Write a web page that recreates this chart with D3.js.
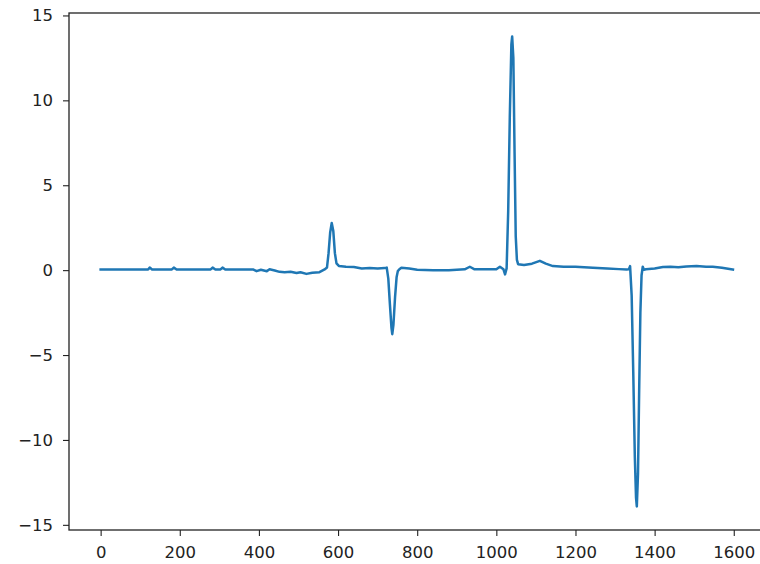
<!DOCTYPE html>
<html>
<head>
<meta charset="utf-8">
<script src="https://cdn.jsdelivr.net/npm/d3@7"></script>
<style>
  body { margin: 0; background: #fff; }
  svg { display: block; font-family: "DejaVu Sans", sans-serif; }
</style>
</head>
<body>
<div id="chart"></div>
<script>
// sample index (x) and signal value (y)
const xs = [0, 120, 124, 130, 180, 185, 192, 278, 283, 290, 303, 308, 315, 385, 394, 405, 420, 427, 440,
  452, 465, 480, 495, 505, 520, 535, 553, 566, 572, 576, 580, 584, 588, 592, 596, 602, 620, 640, 660, 680,
  700, 718, 723, 727, 731, 735, 737, 740, 744, 748, 751, 755, 760, 780, 800, 840, 880, 920, 933, 945, 1000,
  1009, 1018, 1022, 1026, 1030, 1034, 1038, 1040, 1043, 1046, 1049, 1052, 1055, 1070, 1090, 1110, 1125,
  1143, 1170, 1200, 1244, 1280, 1310, 1329, 1335, 1338, 1342, 1346, 1350, 1353, 1355, 1358, 1361, 1364,
  1367, 1370, 1373, 1378, 1400, 1421, 1440, 1460, 1480, 1506, 1530, 1547, 1570, 1598];
const ys = [0.04, 0.04, 0.15, 0.04, 0.04, 0.15, 0.04, 0.04, 0.15, 0.04, 0.04, 0.15, 0.04, 0.04, -0.06, 0.02,
  -0.06, 0.05, -0.02, -0.1, -0.12, -0.1, -0.17, -0.12, -0.22, -0.15, -0.12, 0.04, 0.15, 1.0, 2.2, 2.78, 2.3,
  1.0, 0.4, 0.25, 0.2, 0.18, 0.1, 0.12, 0.1, 0.12, 0.15, -0.5, -2.0, -3.4, -3.77, -3.2, -1.6, -0.4, -0.06,
  0.05, 0.14, 0.1, 0.02, 0.0, 0.0, 0.05, 0.2, 0.05, 0.05, 0.2, 0.05, -0.25, 0.1, 3.5, 9.0, 13.3, 13.76,
  12.5, 7.0, 2.0, 0.6, 0.35, 0.3, 0.38, 0.55, 0.38, 0.24, 0.2, 0.2, 0.14, 0.1, 0.06, 0.04, 0.05, 0.24,
  -1.5, -6.0, -11.0, -13.4, -13.92, -12.0, -7.0, -2.5, -0.3, 0.2, 0.02, 0.05, 0.1, 0.18, 0.2, 0.17, 0.22,
  0.24, 0.2, 0.2, 0.14, 0.04];

const xTicks = [0, 200, 400, 600, 800, 1000, 1200, 1400, 1600];
const yTicks = [-15, -10, -5, 0, 5, 10, 15];

const width = 760;
const height = 564;
const plot = {left: 69, top: 13, right: 765, bottom: 530};

const points = xs.map(function(x, i) { return {x: x, y: ys[i]}; });

// matplotlib style 5% margins around the data
const xExt = [0, 1599];
const xPad = (xExt[1] - xExt[0]) * 0.05;
const yExt = d3.extent(ys);
const yPad = (yExt[1] - yExt[0]) * 0.05;

const x = d3.scaleLinear()
  .domain([xExt[0] - xPad, xExt[1] + xPad])
  .range([plot.left, plot.right]);
const y = d3.scaleLinear()
  .domain([yExt[0] - yPad, yExt[1] + yPad])
  .range([plot.bottom, plot.top]);

const svg = d3.select('#chart')
  .append('svg')
  .attr('width', width)
  .attr('height', height);

svg.append('defs').append('clipPath')
  .attr('id', 'clip')
  .append('rect')
  .attr('x', plot.left)
  .attr('y', plot.top)
  .attr('width', plot.right - plot.left)
  .attr('height', plot.bottom - plot.top);

const fmt = function(d) { return d3.format('d')(d).replace('-', '\u2212'); };

svg.append('g')
  .attr('transform', 'translate(0,' + plot.bottom + ')')
  .call(d3.axisBottom(x).tickValues(xTicks).tickFormat(fmt).tickSizeOuter(0).tickSize(6).tickPadding(10));

svg.append('g')
  .attr('transform', 'translate(' + plot.left + ',0)')
  .call(d3.axisLeft(y).tickValues(yTicks).tickFormat(fmt).tickSizeOuter(0).tickSize(6).tickPadding(10));

svg.selectAll('.domain').remove();
svg.selectAll('.tick line').attr('stroke', '#222').attr('stroke-width', 1.1);
svg.selectAll('.tick text')
  .attr('fill', '#222')
  .style('font-size', '16.5px')
  .style('font-family', '"DejaVu Sans", sans-serif');

svg.append('path')
  .datum(points)
  .attr('clip-path', 'url(#clip)')
  .attr('fill', 'none')
  .attr('stroke', '#1f77b4')
  .attr('stroke-width', 2.5)
  .attr('stroke-linejoin', 'round')
  .attr('stroke-linecap', 'square')
  .attr('d', d3.line()
    .x(function(d) { return x(d.x); })
    .y(function(d) { return y(d.y); }));

// frame
svg.append('rect')
  .attr('x', plot.left)
  .attr('y', plot.top)
  .attr('width', plot.right - plot.left)
  .attr('height', plot.bottom - plot.top)
  .attr('fill', 'none')
  .attr('stroke', '#222')
  .attr('stroke-width', 1.3);
</script>
</body>
</html>
